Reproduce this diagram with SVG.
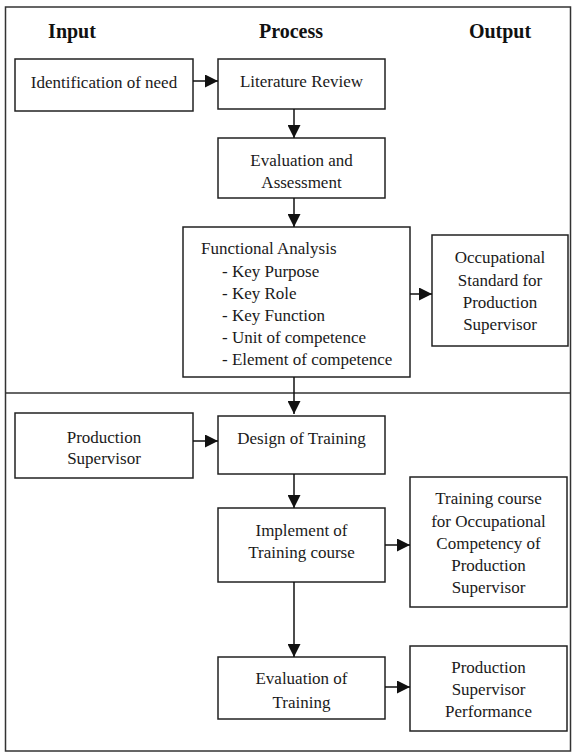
<svg xmlns="http://www.w3.org/2000/svg" width="572" height="752" viewBox="0 0 572 752">
<style>
.box{fill:#fff;stroke:#222;stroke-width:1.5}
.t{font-family:"Liberation Serif","DejaVu Serif",serif;font-size:17px;fill:#1a1a1a}
.c{text-anchor:middle}
.h{font-family:"Liberation Serif","DejaVu Serif",serif;font-size:20px;font-weight:bold;fill:#111;text-anchor:middle}
.ln{stroke:#111;stroke-width:1.5;fill:none;marker-end:url(#ah)}
</style>
<defs>
<marker id="ah" viewBox="0 0 12 12" refX="12" refY="6" markerWidth="14" markerHeight="13" markerUnits="userSpaceOnUse" orient="auto">
<path d="M0,0 L12,6 L0,12 z" fill="#111"/>
</marker>
</defs>
<g id="frame">
<rect x="5.5" y="7" width="565" height="744" fill="#fff" stroke="#333" stroke-width="1.5"/>
<line x1="5.5" y1="393" x2="570.5" y2="393" stroke="#333" stroke-width="1.5"/>
</g>
<g id="headers">
<text class="h" x="72" y="38">Input</text>
<text class="h" x="291" y="38">Process</text>
<text class="h" x="500" y="38">Output</text>
</g>
<g id="n-identification">
<rect class="box" x="15" y="59" width="178" height="52"/>
<text class="t c" x="104" y="88">Identification of need</text>
</g>
<g id="n-literature">
<rect class="box" x="218" y="59" width="167" height="50"/>
<text class="t c" x="301.5" y="87">Literature Review</text>
</g>
<g id="n-evaluation">
<rect class="box" x="218" y="138" width="167" height="60"/>
<text class="t c" x="301.5" y="166">Evaluation and</text>
<text class="t c" x="301.5" y="188">Assessment</text>
</g>
<g id="n-functional">
<rect class="box" x="183" y="227" width="227" height="150"/>
<text class="t" x="201" y="254">Functional Analysis</text>
<text class="t" x="222" y="277">- Key Purpose</text>
<text class="t" x="222" y="299">- Key Role</text>
<text class="t" x="222" y="321">- Key Function</text>
<text class="t" x="222" y="343">- Unit of competence</text>
<text class="t" x="222" y="365">- Element of competence</text>
</g>
<g id="n-occupational">
<rect class="box" x="432" y="235" width="136" height="111"/>
<text class="t c" x="500" y="263">Occupational</text>
<text class="t c" x="500" y="286">Standard for</text>
<text class="t c" x="500" y="308">Production</text>
<text class="t c" x="500" y="330">Supervisor</text>
</g>
<g id="n-prodsup">
<rect class="box" x="15" y="413" width="178" height="65"/>
<text class="t c" x="104" y="443">Production</text>
<text class="t c" x="104" y="464">Supervisor</text>
</g>
<g id="n-design">
<rect class="box" x="218" y="416" width="167" height="58"/>
<text class="t c" x="301.5" y="444">Design of Training</text>
</g>
<g id="n-implement">
<rect class="box" x="218" y="508" width="167" height="74"/>
<text class="t c" x="301.5" y="536">Implement of</text>
<text class="t c" x="301.5" y="558">Training course</text>
</g>
<g id="n-trainingcourse">
<rect class="box" x="410" y="477" width="157" height="130"/>
<text class="t c" x="488.5" y="504">Training course</text>
<text class="t c" x="488.5" y="527">for Occupational</text>
<text class="t c" x="488.5" y="549">Competency of</text>
<text class="t c" x="488.5" y="571">Production</text>
<text class="t c" x="488.5" y="593">Supervisor</text>
</g>
<g id="n-evaltraining">
<rect class="box" x="218" y="657" width="167" height="62"/>
<text class="t c" x="301.5" y="684">Evaluation of</text>
<text class="t c" x="301.5" y="708">Training</text>
</g>
<g id="n-performance">
<rect class="box" x="410" y="646" width="157" height="85"/>
<text class="t c" x="488.5" y="673">Production</text>
<text class="t c" x="488.5" y="695">Supervisor</text>
<text class="t c" x="488.5" y="717">Performance</text>
</g>
<g id="connectors">
<line class="ln" x1="193" y1="81" x2="218" y2="81"/>
<line class="ln" x1="294" y1="109" x2="294" y2="138"/>
<line class="ln" x1="294" y1="198" x2="294" y2="227"/>
<line class="ln" x1="410" y1="294" x2="432" y2="294"/>
<line class="ln" x1="294" y1="377" x2="294" y2="414"/>
<line class="ln" x1="193" y1="441" x2="218" y2="441"/>
<line class="ln" x1="294" y1="474" x2="294" y2="508"/>
<line class="ln" x1="385" y1="545" x2="410" y2="545"/>
<line class="ln" x1="294" y1="582" x2="294" y2="657"/>
<line class="ln" x1="385" y1="687" x2="410" y2="687"/>
</g>
</svg>
